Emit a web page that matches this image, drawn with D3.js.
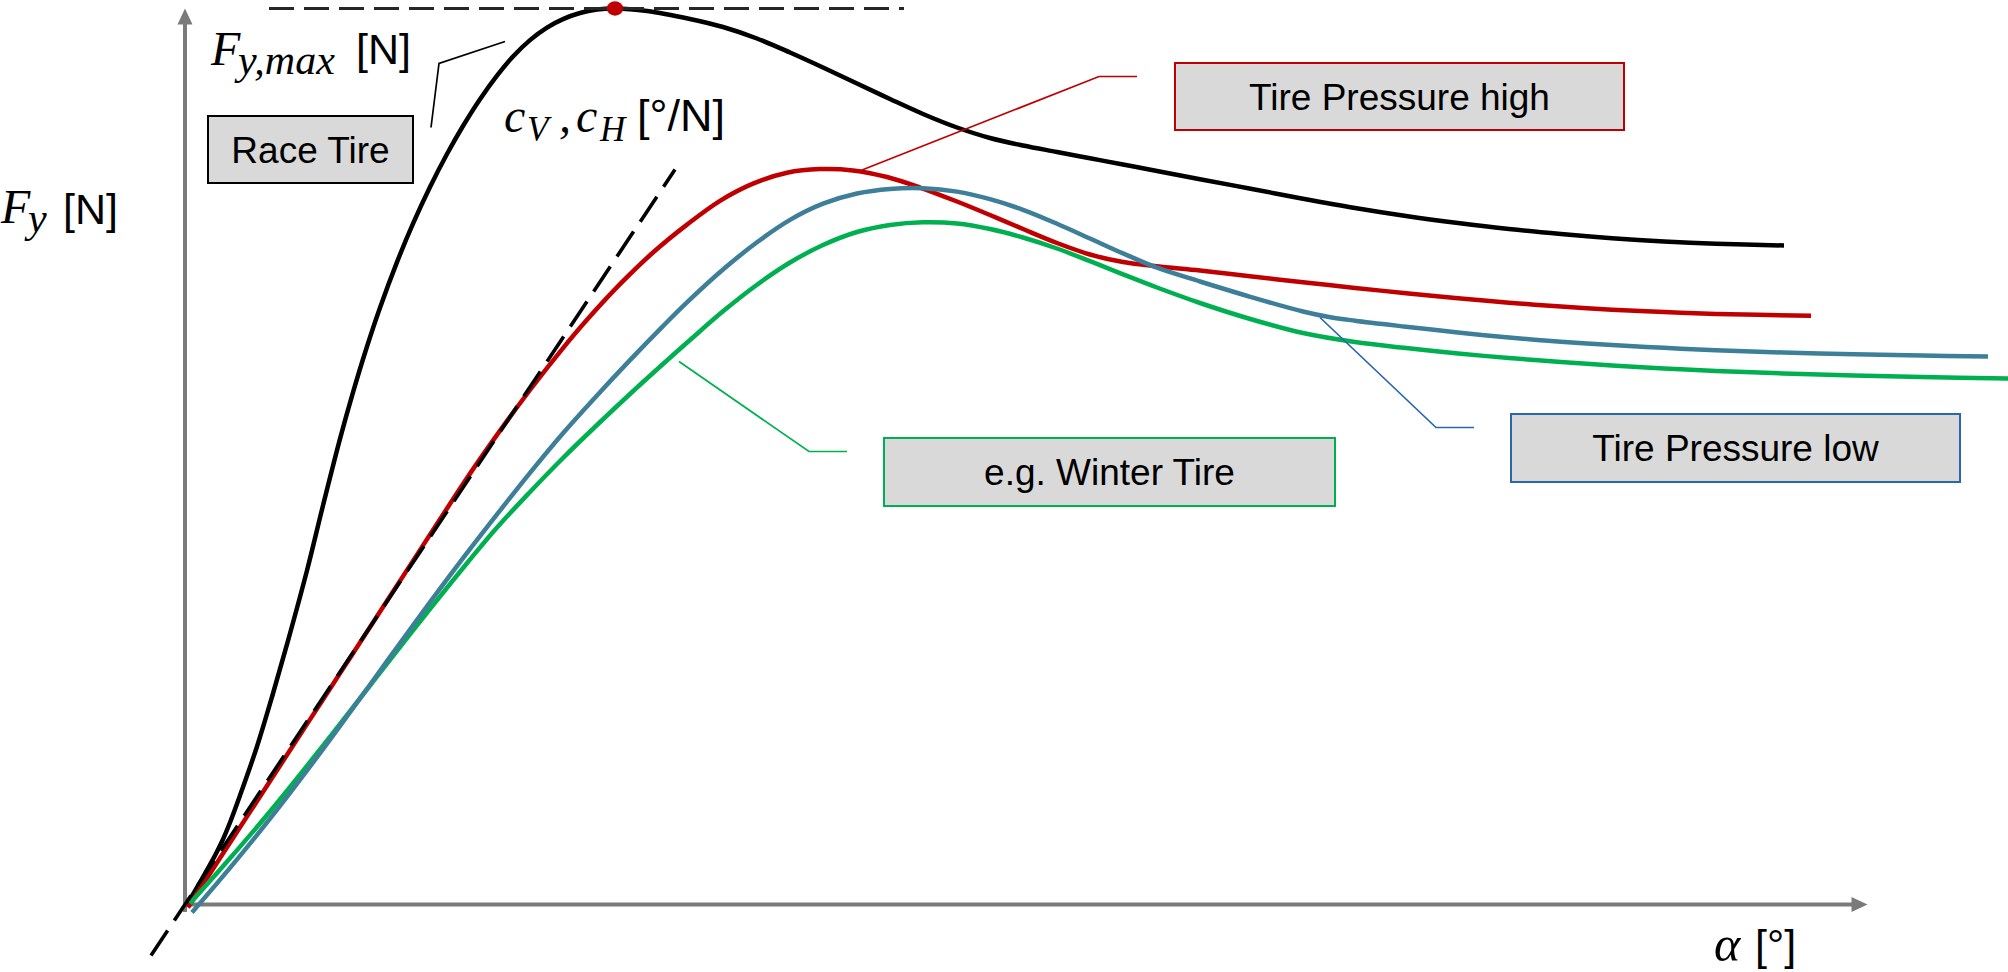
<!DOCTYPE html>
<html>
<head>
<meta charset="utf-8">
<script src="https://cdn.jsdelivr.net/npm/d3@7"></script>
<style>
  body { margin: 0; background: #fff; }
  svg { display: block; }
</style>
</head>
<body>
<svg id="chart" width="2008" height="972"></svg>
<script>
// Lateral force Fy [N] over slip angle α [°] for four tyre variants

// Race tyre
const raceAlpha = [0.02, 0.12, 0.20, 0.30, 0.37, 0.45, 0.55, 0.72, 0.88, 1.05,
  1.22, 1.38, 1.55, 1.68, 1.82, 1.95, 2.12, 2.28, 2.45, 2.62,
  2.78, 2.95, 3.12, 3.28, 3.45, 3.62, 3.78, 3.95, 4.12, 4.30,
  4.62, 5.05, 5.38, 5.72, 6.05, 6.38, 6.72, 7.05, 7.38, 7.72,
  8.05, 8.38, 8.72, 9.05, 9.38, 9.72, 10.15, 10.67, 11.18, 11.70,
  12.21, 12.73, 13.24, 13.76, 14.27, 14.79, 15.31, 15.99];
const raceFy = [0, 170, 310, 490, 630, 820, 1090, 1580, 2110, 2710,
  3340, 3990, 4656, 5121, 5580, 5968, 6424, 6808, 7175, 7505,
  7785, 8053, 8289, 8480, 8644, 8769, 8854, 8915, 8949, 8960,
  8935, 8855, 8775, 8660, 8520, 8370, 8210, 8055, 7905, 7770,
  7665, 7590, 7525, 7462, 7400, 7335, 7253, 7155, 7058, 6965,
  6885, 6815, 6755, 6705, 6663, 6630, 6607, 6590];

// High tyre pressure
const highAlpha = [0.03, 0.12, 0.32, 0.55, 0.88, 1.22, 1.55, 1.88, 2.22, 2.55,
  2.78, 3.12, 3.45, 3.78, 4.02, 4.35, 4.68, 5.02, 5.35, 5.68,
  6.02, 6.35, 6.68, 7.02, 7.35, 7.72, 8.05, 8.38, 8.72, 9.05,
  9.38, 9.72, 10.15, 10.67, 11.18, 11.70, 12.21, 12.73, 13.24, 13.76,
  14.27, 14.79, 15.31, 16.26];
const highFy = [-30, 110, 418, 772, 1280, 1804, 2312, 2820, 3344, 3852,
  4206, 4696, 5145, 5564, 5847, 6203, 6520, 6799, 7037, 7209,
  7318, 7354, 7341, 7275, 7170, 7030, 6895, 6755, 6615, 6500,
  6425, 6382, 6340, 6280, 6222, 6166, 6113, 6063, 6018, 5980,
  5948, 5924, 5906, 5888];

// Low tyre pressure
const lowAlpha = [0.07, 0.45, 0.85, 1.35, 1.85, 2.35, 2.75, 3.12, 3.45, 3.78,
  4.12, 4.45, 4.78, 5.03, 5.38, 5.72, 6.05, 6.38, 6.72, 7.05,
  7.38, 7.72, 8.05, 8.38, 8.72, 9.05, 9.38, 9.72, 10.15, 10.67,
  11.18, 11.44, 11.70, 12.21, 12.73, 13.24, 13.76, 14.27, 14.79, 15.31,
  16.34, 17.37, 18.03];
const lowFy = [-80, 366, 858, 1513, 2198, 2888, 3424, 3901, 4317, 4713,
  5091, 5444, 5784, 6031, 6350, 6622, 6846, 7008, 7110, 7156,
  7163, 7129, 7053, 6947, 6808, 6660, 6511, 6368, 6230, 6072,
  5930, 5875, 5838, 5778, 5720, 5670, 5628, 5595, 5567, 5543,
  5510, 5490, 5480];

// Winter tyre
const winterAlpha = [0.05, 0.45, 0.85, 1.35, 1.85, 2.35, 2.83, 3.12, 3.45, 3.78,
  4.12, 4.45, 4.78, 5.05, 5.38, 5.72, 6.05, 6.38, 6.72, 7.05,
  7.38, 7.72, 8.05, 8.38, 8.72, 9.05, 9.38, 9.72, 10.15, 10.67,
  11.18, 11.70, 12.21, 12.73, 13.24, 13.76, 14.27, 14.79, 15.31, 16.34,
  17.37, 18.30];
const winterFy = [10, 462, 930, 1550, 2190, 2830, 3425, 3770, 4125, 4465,
  4795, 5105, 5405, 5645, 5932, 6198, 6420, 6595, 6725, 6795,
  6822, 6810, 6755, 6670, 6560, 6433, 6302, 6170, 6015, 5850,
  5715, 5625, 5565, 5510, 5465, 5425, 5390, 5360, 5335, 5300,
  5275, 5260];

// Cornering-stiffness tangent through the origin (two end points)
const tangentAlpha = [-0.34, 4.90];
const tangentFy = [-510, 7350];

// Extent of the Fy,max reference line
const fmaxLineAlpha = [0.84, 7.19];

// Axis extents
const alphaAxisMax = 16.825;
const fyAxisMax = 8960;
const fyAxisMin = -75;

// Label texts
const seriesLabels = ["Race Tire", "Tire Pressure high", "Tire Pressure low", "e.g. Winter Tire"];

// ---------------------------------------------------------------------------

const svg = d3.select("#chart");

const x = d3.scaleLinear().domain([0, alphaAxisMax]).range([185, 1867.5]);
const y = d3.scaleLinear().domain([0, 9000]).range([904.5, 4.5]);

const AXIS_GREY = "#7a7a7a";
const SANS = "'Liberation Sans', Arial, sans-serif";
const SERIF = "'Liberation Serif', 'Times New Roman', serif";

const toPoints = (as, fs) => as.map((a, i) => [a, fs[i]]);
const line = d3.line().x(d => x(d[0])).y(d => y(d[1])).curve(d3.curveCatmullRom.alpha(0.5));
const straight = d3.line().x(d => x(d[0])).y(d => y(d[1]));

// Axes with arrow heads
const gAxes = svg.append("g");
gAxes.append("line")
  .attr("x1", x(0)).attr("x2", x(alphaAxisMax) - 6)
  .attr("y1", y(0)).attr("y2", y(0))
  .attr("stroke", AXIS_GREY).attr("stroke-width", 4);
gAxes.append("path")
  .attr("d", `M${x(alphaAxisMax)},${y(0)} l-16,-7.5 l0,15 Z`)
  .attr("fill", AXIS_GREY);
gAxes.append("line")
  .attr("x1", x(0)).attr("x2", x(0))
  .attr("y1", y(fyAxisMin)).attr("y2", y(fyAxisMax) + 6)
  .attr("stroke", AXIS_GREY).attr("stroke-width", 4);
gAxes.append("path")
  .attr("d", `M${x(0)},${y(fyAxisMax)} l-7.5,16 l15,0 Z`)
  .attr("fill", AXIS_GREY);

// Curves
const curves = [
  { a: raceAlpha, f: raceFy, color: "#000000" },
  { a: highAlpha, f: highFy, color: "#c00000" },
  { a: winterAlpha, f: winterFy, color: "#00b050" },
  { a: lowAlpha, f: lowFy, color: "#3d7e99" }
];
svg.append("g").selectAll("path")
  .data(curves)
  .join("path")
  .attr("d", d => line(toPoints(d.a, d.f)))
  .attr("fill", "none")
  .attr("stroke", d => d.color)
  .attr("stroke-width", 4.5);

// Cornering-stiffness tangent
svg.append("path")
  .attr("d", straight(toPoints(tangentAlpha, tangentFy)))
  .attr("fill", "none")
  .attr("stroke", "#000")
  .attr("stroke-width", 3.6)
  .attr("stroke-dasharray", "30 12");

// Peak of the race tyre curve and the Fy,max line
const iPeak = d3.maxIndex(raceFy);
const fyMax = raceFy[iPeak];
svg.append("path")
  .attr("d", straight(fmaxLineAlpha.map(a => [a, fyMax])))
  .attr("fill", "none")
  .attr("stroke", "#262626")
  .attr("stroke-width", 3)
  .attr("stroke-dasharray", "25 10");
svg.append("ellipse")
  .attr("cx", x(raceAlpha[iPeak]))
  .attr("cy", y(fyMax))
  .attr("rx", 8.3).attr("ry", 7.2)
  .attr("fill", "#c00000");

// Leader lines (anchored to the curves, in data units)
const leaders = [
  { pts: [[2.46, 7770], [2.54, 8410], [3.20, 8630]], color: "#000000" },
  { pts: [[6.77, 7345], [9.14, 8280], [9.52, 8280]], color: "#c00000" },
  { pts: [[11.35, 5870], [12.51, 4770], [12.89, 4770]], color: "#2a66ad" },
  { pts: [[4.94, 5430], [6.24, 4530], [6.62, 4530]], color: "#00b050" }
];
svg.append("g").selectAll("path")
  .data(leaders)
  .join("path")
  .attr("d", d => straight(d.pts))
  .attr("fill", "none")
  .attr("stroke", d => d.color)
  .attr("stroke-width", 1.7);

// Label boxes
const boxes = [
  { text: seriesLabels[0], x: 208, y: 116, w: 205, h: 67, color: "#000000" },
  { text: seriesLabels[1], x: 1175, y: 63, w: 449, h: 67, color: "#c00000" },
  { text: seriesLabels[2], x: 1511, y: 414, w: 449, h: 68, color: "#2a66ad" },
  { text: seriesLabels[3], x: 884, y: 438, w: 451, h: 68, color: "#00b050" }
];
const gBox = svg.append("g").selectAll("g").data(boxes).join("g");
gBox.append("rect")
  .attr("x", d => d.x).attr("y", d => d.y)
  .attr("width", d => d.w).attr("height", d => d.h)
  .attr("fill", "#d9d9d9")
  .attr("stroke", d => d.color)
  .attr("stroke-width", 2);
gBox.append("text")
  .attr("x", d => d.x + d.w / 2)
  .attr("y", d => d.y + d.h / 2 + 13.3)
  .attr("text-anchor", "middle")
  .attr("font-family", SANS)
  .attr("font-size", 37)
  .attr("fill", "#000")
  .text(d => d.text);

// Formula labels built from positioned pieces
function formula(pieces) {
  const t = svg.append("text").attr("fill", "#000");
  pieces.forEach(p => {
    t.append("tspan")
      .attr("x", p.x).attr("y", p.y)
      .attr("font-family", p.math ? SERIF : SANS)
      .attr("font-style", p.math ? "italic" : "normal")
      .attr("font-size", p.size)
      .text(p.t);
  });
}

formula([
  { t: "F", x: 1, y: 223, size: 48, math: true },
  { t: "y", x: 28, y: 232, size: 42, math: true },
  { t: "[N]", x: 63, y: 224, size: 43 }
]);
formula([
  { t: "F", x: 211, y: 65, size: 48, math: true },
  { t: "y,max", x: 238, y: 74, size: 42, math: true },
  { t: "[N]", x: 356, y: 64, size: 43 }
]);
formula([
  { t: "c", x: 504, y: 132, size: 48, math: true },
  { t: "V", x: 527, y: 141, size: 35, math: true },
  { t: ",", x: 559, y: 132, size: 48, math: true },
  { t: "c", x: 576, y: 132, size: 48, math: true },
  { t: "H", x: 600, y: 141, size: 35, math: true },
  { t: "[°/N]", x: 637, y: 131, size: 45 }
]);
formula([
  { t: "α", x: 1714, y: 961, size: 50, math: true },
  { t: "[°]", x: 1755, y: 960, size: 43 }
]);
</script>
</body>
</html>
